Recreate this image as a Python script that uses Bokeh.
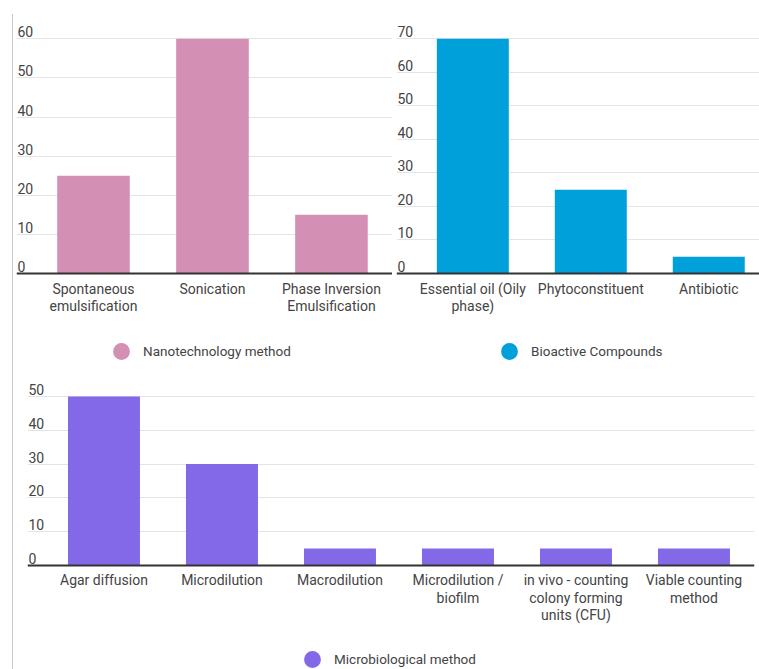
from bokeh.plotting import figure
from bokeh.layouts import column, row
from bokeh.models import Range1d, FixedTicker, Legend, LegendItem
from bokeh.core.properties import value
from bokeh.embed import file_html
from bokeh.resources import INLINE

# ---------------- data ----------------
nano_methods = ["Spontaneous\nemulsification", "Sonication", "Phase Inversion\nEmulsification"]
nano_values = [25, 60, 15]
nano_ticks = [0, 10, 20, 30, 40, 50, 60]

bio_compounds = ["Essential oil (Oily\nphase)", "Phytoconstituent", "Antibiotic"]
bio_values = [70, 25, 5]
bio_ticks = [0, 10, 20, 30, 40, 50, 60, 70]

micro_methods = ["Agar diffusion", "Microdilution", "Macrodilution", "Microdilution /\nbiofilm",
                 "in vivo - counting\ncolony forming\nunits (CFU)", "Viable counting\nmethod"]
micro_values = [50, 30, 5, 5, 5, 5]
micro_ticks = [0, 10, 20, 30, 40, 50]

# ---------------- style ----------------
FONT = "Roboto"
TEXT = "#444444"
GRID = "#e4e4e4"
AXIS = "#333333"


def panel(cats, vals, ticks, color, legend_label, width, height, xr, yr,
          borders, legend_loc):
    bl, br, bt, bb = borders
    p = figure(width=width, height=height, x_range=Range1d(*xr), y_range=Range1d(*yr),
               output_backend="svg", toolbar_location=None, y_axis_location=None,
               min_border_left=bl, min_border_right=br, min_border_top=bt, min_border_bottom=bb)
    p.outline_line_color = None
    p.xgrid.visible = False
    p.ygrid.ticker = FixedTicker(ticks=[t for t in ticks if t > 0])
    p.ygrid.grid_line_color = GRID
    p.ygrid.grid_line_width = 1

    xs = list(range(len(cats)))
    p.vbar(x=xs, top=vals, bottom=0, width=0.61, fill_color=color, line_color=None)

    ax = p.xaxis[0]
    ax.fixed_location = 0
    ax.ticker = FixedTicker(ticks=xs)
    ax.major_label_overrides = {i: c for i, c in enumerate(cats)}
    ax.major_tick_line_color = None
    ax.minor_tick_line_color = None
    ax.major_tick_out = 0
    ax.major_tick_in = 0
    ax.axis_line_color = AXIS
    ax.axis_line_width = 2
    ax.major_label_standoff = 7
    ax.major_label_text_font = FONT
    ax.major_label_text_font_size = "14px"
    ax.major_label_text_color = TEXT
    ax.major_label_text_line_height = 1.07

    p.text(x=[xr[0]] * len(ticks), y=ticks, text=[str(t) for t in ticks],
           text_font=value(FONT), text_font_size="14px", text_color=TEXT,
           text_align="left", text_baseline="middle", x_offset=1, y_offset=-7)

    # hidden marker renderer, used only for the round legend swatch
    r = p.scatter(x=xs, y=vals, marker="circle", size=10, fill_color=color,
                  line_color=None, visible=False)
    legend = Legend(items=[LegendItem(label=legend_label, renderers=[r])],
                    location=legend_loc, glyph_width=42, glyph_height=42,
                    label_standoff=1, padding=0, margin=0,
                    border_line_color=None, background_fill_alpha=0,
                    label_text_font=FONT, label_text_font_size="13.5px",
                    label_text_color=TEXT)
    p.add_layout(legend)
    return p


# top panels: baseline at y=273 px, frame 14..375 px
p1 = panel(nano_methods, nano_values, nano_ticks, "#d48fb4", "Nanotechnology method",
           379, 361, (-0.647, 2.513), (-26.07, 66.2), (3, 0, 0, 0), (84, 3))
p2 = panel(bio_compounds, bio_values, bio_ticks, "#00a0da", "Bioactive Compounds",
           367, 361, (-0.647, 2.43), (-30.42, 77.25), (4, 0, 0, 0), (92, 3))
p3 = panel(micro_methods, micro_values, micro_ticks, "#8368e8", "Microbiological method",
           746, 294, (-0.648, 5.513), (-30.77, 55.3), (14, 5, 3, 0), (264, -11))

layout = column(row(p1, p2), p3, styles={"border-left": "1px solid #c8c8c8"},
                margin=(14, 0, 0, 12))

open("out.html", "w").write(file_html(layout, INLINE))
